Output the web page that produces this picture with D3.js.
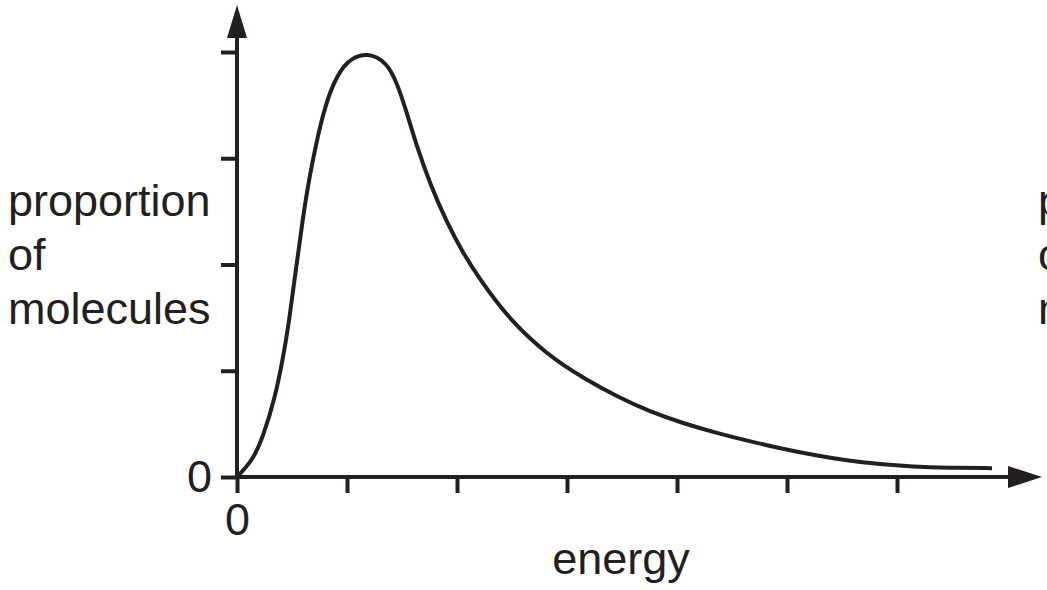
<!DOCTYPE html>
<html>
<head>
<meta charset="utf-8">
<script src="https://cdn.jsdelivr.net/npm/d3@7"></script>
<style>
  body { margin: 0; background: #fff; overflow: hidden; }
  text { font-family: "Liberation Sans", Arial, Helvetica, sans-serif; fill: #231f20; }
</style>
</head>
<body>
<div id="chart"></div>
<script>
// energy and proportion, both in tick units
var energy = [0, 0.145, 0.236, 0.345, 0.415, 0.466, 0.506, 0.548, 0.588, 0.634, 0.688, 0.782, 0.873, 1.0, 1.191,
    1.364, 1.455, 1.545, 1.636, 1.755, 1.909, 2.055, 2.209, 2.364, 2.509, 2.664, 2.818, 2.964, 3.145,
    3.455, 3.755, 4.055, 4.364, 4.664, 4.936, 5.236, 5.545, 5.845, 6.145, 6.455, 6.864];
var proportion = [0, 0.16, 0.376, 0.744, 1.101, 1.412, 1.732, 2.042, 2.353, 2.673, 2.984, 3.426, 3.708, 3.93, 4.0,
    3.9, 3.708, 3.426, 3.106, 2.76, 2.391, 2.108, 1.859, 1.639, 1.462, 1.301, 1.165, 1.054, 0.935,
    0.755, 0.614, 0.506, 0.413, 0.335, 0.271, 0.208, 0.155, 0.119, 0.098, 0.087, 0.083];
var xTicks = [0, 1, 2, 3, 4, 5, 6];
var yTicks = [0, 1, 2, 3, 4];
var yLabel = ["proportion", "of", "molecules"];
var xLabel = "energy";

(function(){
    var width = 1047,
        height = 590,
        ink = "#231f20";

    var svg = d3.select("#chart")
        .append("svg")
        .attr("width", width)
        .attr("height", height)

    var x = d3.scaleLinear().domain([0, 7]).range([237, 1007]);
    var y = d3.scaleLinear().domain([0, 4]).range([477, 52]);

    var fmt = function(d){ return d === 0 ? "0" : ""; };

    svg.append("g")
        .attr("transform", "translate(0," + y(0) + ")")
        .call(d3.axisBottom(x).tickValues(xTicks).tickSize(16).tickPadding(10).tickFormat(fmt))
    svg.append("g")
        .attr("transform", "translate(" + x(0) + ",0)")
        .call(d3.axisLeft(y).tickValues(yTicks).tickSize(16).tickPadding(9).tickFormat(fmt))

    svg.selectAll(".domain").remove();
    svg.selectAll(".tick line").attr("stroke", ink).attr("stroke-width", 4);
    svg.selectAll(".tick text").attr("fill", ink).style("font-size", "45px");

    // axis lines with arrow heads
    var x0 = x(0), y0 = y(0);
    svg.append("line")
        .attr("x1", x0).attr("y1", y0 + 2)
        .attr("x2", x0).attr("y2", 38)
        .attr("stroke", ink).attr("stroke-width", 4)
    svg.append("path")
        .attr("d", "M" + (x0 - 10) + ",38L" + x0 + ",5L" + (x0 + 10) + ",38Z")
        .attr("fill", ink)

    svg.append("line")
        .attr("x1", x0 - 2).attr("y1", y0)
        .attr("x2", 1010).attr("y2", y0)
        .attr("stroke", ink).attr("stroke-width", 4)
    svg.append("path")
        .attr("d", "M1008," + (y0 - 11) + "L1042," + y0 + "L1008," + (y0 + 11) + "Z")
        .attr("fill", ink)

    // the curve
    var points = energy.map(function(e, i){ return [e, proportion[i]]; });
    var line = d3.line()
        .x(function(d){ return x(d[0]); })
        .y(function(d){ return y(d[1]); })
        .curve(d3.curveBasis)

    svg.append("path")
        .datum(points)
        .attr("d", line)
        .attr("fill", "none")
        .attr("stroke", ink)
        .attr("stroke-width", 4)

    // axis titles
    svg.selectAll(".ylab")
        .data(yLabel)
        .enter().append("text")
        .attr("class", "ylab")
        .attr("x", 8)
        .attr("y", function(d, i){ return 216 + i * 54; })
        .style("font-size", "45px")
        .text(function(d){ return d; })

    // second label, cut off by the right edge as in the source
    svg.selectAll(".ylab2")
        .data(yLabel)
        .enter().append("text")
        .attr("class", "ylab2")
        .attr("x", 1038)
        .attr("y", function(d, i){ return 216 + i * 54; })
        .style("font-size", "45px")
        .text(function(d){ return d; })

    svg.append("text")
        .attr("x", 621)
        .attr("y", 574)
        .attr("text-anchor", "middle")
        .style("font-size", "45px")
        .text(xLabel)
})();
</script>
</body>
</html>
